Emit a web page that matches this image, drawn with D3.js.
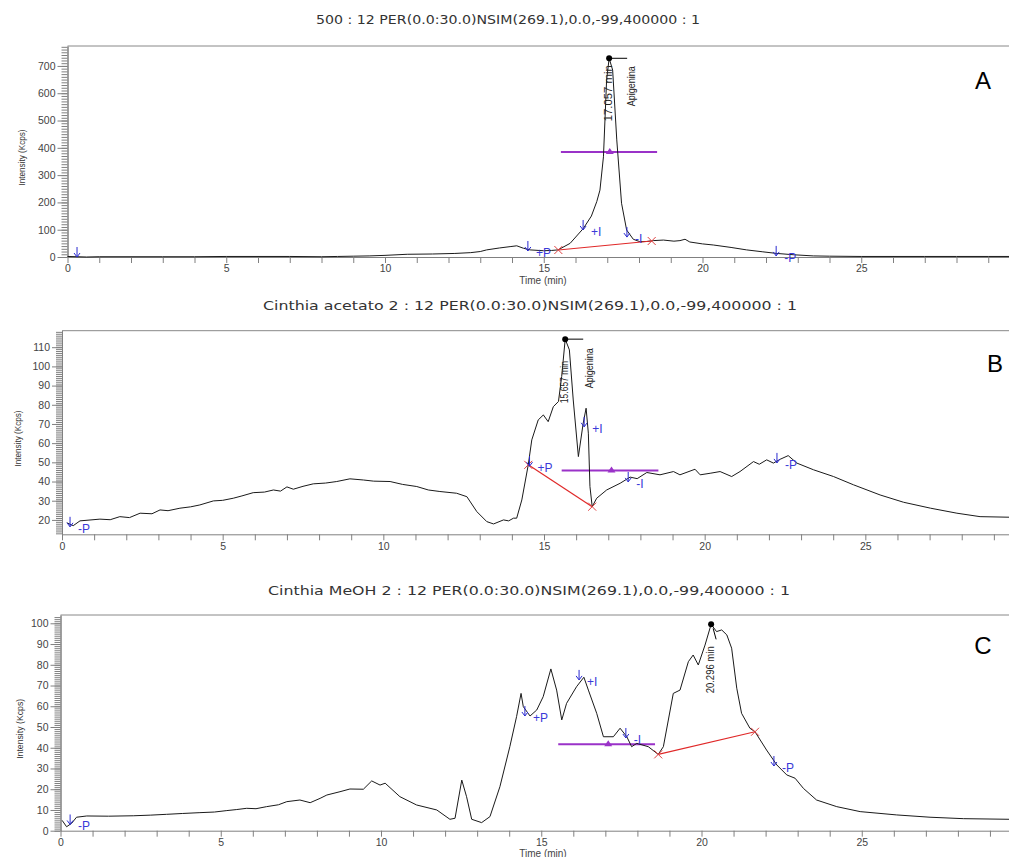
<!DOCTYPE html>
<html>
<head>
<meta charset="utf-8">
<title>Chromatograms NSIM 269.1</title>
<style>
  body { margin: 0; background: #fff; }
  svg { display: block; font-family: "Liberation Sans", Arial, sans-serif; }
</style>
</head>
<body>
<script src="https://d3js.org/d3.v7.min.js"></script>
<svg id="chart" width="1009" height="857"></svg>
<script>
// ---- titles / labels ----
const titles = [
  '500 : 12 PER(0.0:30.0)NSIM(269.1),0.0,-99,400000 : 1',
  'Cinthia acetato 2 : 12 PER(0.0:30.0)NSIM(269.1),0.0,-99,400000 : 1',
  'Cinthia MeOH 2 : 12 PER(0.0:30.0)NSIM(269.1),0.0,-99,400000 : 1'
]
const panelLetters = ['A', 'B', 'C']
const xTicks = d3.range(0, 30, 1)

// ---- trace A (time in min, intensity in Kcps) ----
const timeA = [0, 0.3, 0.6, 1, 2, 3, 4, 5, 6, 7, 8, 8.5, 9, 9.5, 10, 10.7, 11.5, 12.2, 12.7, 13.0, 13.2, 13.6, 13.94, 14.15, 14.36, 14.57, 14.99, 15.25, 15.45, 15.83, 16.25, 16.5, 16.67, 16.77, 16.88, 16.98, 17.06, 17.17, 17.3, 17.45, 17.61, 17.82, 18.03, 18.25, 18.45, 18.77, 19.1, 19.29, 19.45, 19.6, 20.0, 20.34, 20.9, 21.39, 21.9, 22.34, 22.9, 23.49, 24, 25, 26, 27, 28, 29, 30]
const intensityA = [2, 1, 0, 1, 1, 1, 1, 2, 2, 2, 1, 2, 3, 4, 6, 10, 11, 13, 16, 20, 26, 33, 38, 41, 32, 26, 23, 24, 26, 50, 105, 150, 203, 245, 367, 649, 728, 685, 429, 197, 99, 65, 56, 57, 60, 62, 58, 60, 65, 55, 48, 44, 35, 26, 19, 13, 8, 4, 3, 2, 2, 2, 2, 2, 2]

// ---- trace B ----
const timeB = [0.15, 0.35, 0.56, 1.18, 1.5, 1.8, 2.1, 2.43, 2.8, 3.05, 3.3, 3.67, 4, 4.29, 4.71, 5.0, 5.33, 5.6, 5.95, 6.3, 6.58, 6.8, 7.0, 7.2, 7.5, 7.82, 8.2, 8.55, 8.96, 9.38, 9.7, 10.21, 10.6, 11.04, 11.4, 11.76, 12.28, 12.6, 12.91, 13.22, 13.43, 13.74, 13.9, 14.05, 14.15, 14.31, 14.51, 14.62, 14.82, 14.98, 15.13, 15.29, 15.45, 15.55, 15.66, 15.79, 15.91, 16.07, 16.22, 16.31, 16.38, 16.43, 16.5, 16.64, 16.95, 17.37, 17.68, 17.9, 18.2, 18.61, 19.03, 19.23, 19.7, 19.86, 20.17, 20.48, 20.84, 21.1, 21.52, 21.7, 21.93, 22.14, 22.35, 22.6, 22.87, 23.39, 24.01, 24.63, 25.46, 26.19, 27.03, 27.85, 28.57, 29.5, 30]
const intensityB = [18.5, 17, 19.5, 20.4, 20.1, 21.7, 21.2, 23.5, 23.2, 25.2, 24.8, 26.1, 26.8, 27.8, 29.9, 30.2, 31.3, 32.5, 34.2, 34.5, 35.6, 35.0, 37.2, 36, 37.5, 38.8, 39.2, 40, 41.4, 40.8, 40.2, 40, 38.5, 37.4, 35.6, 34.8, 33.9, 32.1, 24.3, 19.1, 17.9, 20, 19.5, 20.9, 20.9, 30.4, 48.7, 61.7, 72.1, 74.7, 71.2, 79, 81.7, 94.7, 114.2, 108.6, 82.5, 53, 70.4, 78.2, 65.2, 37.4, 26.9, 31.3, 35.6, 39.1, 42.3, 41.5, 44.7, 43.5, 45.2, 43.5, 46.4, 43.5, 44.3, 45.2, 42.6, 45.2, 50.4, 49, 51.3, 49.6, 51.6, 53.5, 49.6, 46.1, 42.6, 38.3, 33, 29.2, 26.1, 23.5, 21.7, 21.4, 21.2]

// ---- trace C ----
const timeC = [0.05, 0.19, 0.35, 0.5, 0.82, 1.5, 2.27, 2.8, 3.31, 3.8, 4.35, 4.8, 5.19, 5.5, 5.81, 6.1, 6.43, 6.8, 7.06, 7.47, 7.79, 8.1, 8.31, 8.72, 9.03, 9.45, 9.71, 9.97, 10.13, 10.59, 11.11, 11.74, 12.15, 12.31, 12.52, 12.67, 12.83, 13.14, 13.4, 13.71, 14.02, 14.23, 14.37, 14.44, 14.65, 14.86, 15.06, 15.3, 15.48, 15.64, 15.79, 16.1, 16.33, 16.47, 16.73, 16.94, 17.25, 17.46, 17.67, 17.82, 17.98, 18.34, 18.65, 18.81, 19.12, 19.33, 19.59, 19.74, 19.9, 20.11, 20.3, 20.47, 20.63, 20.79, 20.94, 21.1, 21.25, 21.51, 21.67, 22.03, 22.35, 22.66, 22.92, 23.18, 23.59, 24.22, 24.95, 26.09, 27.13, 28.17, 29.6, 30]
const intensityC = [5, 1.9, 3.6, 6.5, 7.1, 7.0, 7.2, 7.5, 7.9, 8.3, 8.7, 9.0, 9.7, 10.2, 10.8, 10.6, 11.6, 12.5, 14, 14.8, 13.5, 15.6, 17.2, 18.8, 20.1, 20, 24, 22, 22.9, 16.4, 12.4, 10, 5.5, 6, 24.4, 16.4, 5.5, 3.9, 6.8, 21.2, 40.5, 55, 66.2, 59.8, 55.3, 58.2, 64.6, 78, 67.8, 53.4, 61.4, 69.4, 74, 67.8, 56.6, 45.3, 45.3, 49.4, 45.3, 40.5, 42.1, 40.5, 36.8, 40.5, 66.2, 67.8, 81.5, 84.7, 79.9, 89.5, 99.5, 96, 96.8, 94.4, 88, 68.7, 56.6, 49.4, 47.7, 38.9, 31.7, 26.9, 25.3, 20.4, 14.8, 11.6, 9.2, 7.6, 6.5, 5.8, 5.5, 5.4]

// ---- peak apex, retention time label, compound ----
const peakTimes = [17.06, 15.66, 20.3]
const peakValues = [728, 114.2, 99.5]
const peakLabels = ['17.057 min', '15.657 min', '20.296 min']
const compounds = ['Apigenina', 'Apigenina', '']

// ---- integration baselines (red), [t, v] start and end ----
const baselineA = [[15.46, 25.6], [18.4, 58.6]]
const baselineB = [[14.51, 48.7], [16.5, 26.9]]
const baselineC = [[18.65, 36.8], [21.67, 47.7]]

// ---- half-height bars (purple): from, to, triangle time, level ----
const halfBarA = [15.54, 18.57, 17.08, 385]
const halfBarB = [15.55, 18.56, 17.1, 45.7]
const halfBarC = [15.53, 18.55, 17.09, 41.7]

// ---- event markers (blue arrows) ----
const eventTimesA = [0.3, 14.5, 16.24, 17.62, 22.32]
const eventValuesA = [0, 22, 99, 73, 4]
const eventLabelsA = ['', '+P', '+I', '-I', '-P']
const eventTimesB = [0.25, 14.55, 16.25, 17.62, 22.25]
const eventValuesB = [16.4, 48, 68.5, 39.8, 49.7]
const eventLabelsB = ['-P', '+P', '+I', '-I', '-P']
const eventTimesC = [0.3, 14.49, 16.18, 17.64, 22.26]
const eventValuesC = [3, 55.3, 72.7, 44.7, 31.2]
const eventLabelsC = ['-P', '+P', '+I', '-I', '-P']

const svg = d3.select('#chart')

const panels = [
  { time: timeA, val: intensityA, base: baselineA, bar: halfBarA,
    ev: [eventTimesA, eventValuesA, eventLabelsA],
    left: 67.5, right: 1020, top: 46, bottom: 257, yDomain: [0, 773], major: 100,
    titleX: 508, titleY: 24, titleLen: 384, letterPos: [983, 89], yLabelX: 25, yLabelLen: 56,
    peakLabelLen: 56, peakLabelOff: 63, compOff: [26, 48], peakTail: 'h',
    timeLabelY: 284, timeLabelX: 543 },
  { time: timeB, val: intensityB, base: baselineB, bar: halfBarB,
    ev: [eventTimesB, eventValuesB, eventLabelsB],
    left: 62, right: 1026, top: 330.7, bottom: 534.3, yDomain: [12.5, 118.6], major: 10,
    titleX: 530, titleY: 310, titleLen: 534, letterPos: [995, 372], yLabelX: 21, yLabelLen: 56,
    peakLabelLen: 42, peakLabelOff: 64, compOff: [28, 49], peakTail: 'h', timeLabelY: null },
  { time: timeC, val: intensityC, base: baselineC, bar: halfBarC,
    ev: [eventTimesC, eventValuesC, eventLabelsC],
    left: 60.5, right: 1022, top: 615, bottom: 830.7, yDomain: [0, 104], major: 10,
    titleX: 529, titleY: 595, titleLen: 522, letterPos: [983, 654], yLabelX: 23, yLabelLen: 60,
    peakLabelLen: 47, peakLabelOff: 69, compOff: null, peakTail: 'v',
    timeLabelY: 857, timeLabelX: 543 }
]

panels.forEach((p, i) => {
  const g = svg.append('g')
  const x = d3.scaleLinear().domain([0, 30]).range([p.left, p.right])
  const y = d3.scaleLinear().domain(p.yDomain).range([p.bottom, p.top])

  // title
  g.append('text')
    .attr('x', p.titleX).attr('y', p.titleY)
    .attr('text-anchor', 'middle')
    .attr('font-family', '"DejaVu Sans", Verdana, sans-serif')
    .attr('font-size', 13).attr('fill', '#333')
    .attr('textLength', p.titleLen).attr('lengthAdjust', 'spacingAndGlyphs')
    .text(titles[i])

  // top frame line
  g.append('line')
    .attr('x1', p.left).attr('x2', 1009)
    .attr('y1', p.top).attr('y2', p.top)
    .attr('stroke', '#888')

  // x axis, a tick every minute, labels every 5
  const xa = g.append('g')
    .attr('transform', `translate(0,${p.bottom})`)
    .call(d3.axisBottom(x).tickValues(xTicks).tickSize(6).tickSizeOuter(0).tickPadding(2)
      .tickFormat(d => d % 5 === 0 ? d : ''))

  // y axis, major and minor ticks
  const lo = Math.ceil(p.yDomain[0] / p.major) * p.major
  const majors = d3.range(lo, p.yDomain[1], p.major)
  const minorStep = p.major / 10
  const minors = d3.range(Math.ceil(p.yDomain[0] / minorStep) * minorStep, p.yDomain[1], minorStep)
  const yMinor = g.append('g')
    .attr('transform', `translate(${p.left},0)`)
    .call(d3.axisLeft(y).tickValues(minors).tickSize(6).tickSizeOuter(0).tickFormat(''))
  const ya = g.append('g')
    .attr('transform', `translate(${p.left},0)`)
    .call(d3.axisLeft(y).tickValues(majors).tickSize(10).tickSizeOuter(0).tickPadding(2))

  ;[xa, ya, yMinor].forEach(a => {
    a.selectAll('path, line').attr('stroke', '#808080')
    a.selectAll('text').attr('fill', '#444').attr('font-size', 10.5)
      .attr('font-family', '"Liberation Sans", Arial, sans-serif')
  })

  // axis titles
  g.append('text')
    .attr('transform', `translate(${p.yLabelX},${(p.top + p.bottom) / 2 + 6}) rotate(-90)`)
    .attr('text-anchor', 'middle')
    .attr('font-size', 9).attr('fill', '#333')
    .attr('textLength', p.yLabelLen).attr('lengthAdjust', 'spacingAndGlyphs')
    .text('Intensity (Kcps)')
  if (p.timeLabelY) {
    g.append('text')
      .attr('x', p.timeLabelX).attr('y', p.timeLabelY)
      .attr('text-anchor', 'middle')
      .attr('font-size', 10).attr('fill', '#444')
      .text('Time (min)')
  }

  // half-height bar
  const [b0, b1, bt, bv] = p.bar
  g.append('line')
    .attr('x1', x(b0)).attr('x2', x(b1))
    .attr('y1', y(bv)).attr('y2', y(bv))
    .attr('stroke', '#9a32c8').attr('stroke-width', 2)
  g.append('path')
    .attr('d', `M${x(bt) - 4},${y(bv) + 2}L${x(bt)},${y(bv) - 4}L${x(bt) + 4},${y(bv) + 2}Z`)
    .attr('fill', '#9a32c8')

  // chromatogram trace
  const pts = p.time.map((t, k) => [t, p.val[k]])
  g.append('path')
    .datum(pts)
    .attr('fill', 'none')
    .attr('stroke', '#1a1a1a')
    .attr('stroke-width', 1)
    .attr('d', d3.line().x(d => x(d[0])).y(d => y(d[1])))

  // integration baseline with X marks
  g.append('line')
    .attr('x1', x(p.base[0][0])).attr('y1', y(p.base[0][1]))
    .attr('x2', x(p.base[1][0])).attr('y2', y(p.base[1][1]))
    .attr('stroke', '#e02828').attr('stroke-width', 1.2)
  p.base.forEach(b => {
    const cx = x(b[0]), cy = y(b[1])
    g.append('path')
      .attr('d', `M${cx - 4},${cy - 4}L${cx + 4},${cy + 4}M${cx - 4},${cy + 4}L${cx + 4},${cy - 4}`)
      .attr('stroke', '#e04040').attr('stroke-width', 1)
  })

  // event markers
  const [et, evv, el] = p.ev
  et.forEach((t, k) => {
    const mx = x(t), my = y(evv[k])
    g.append('path')
      .attr('d', `M${mx},${my - 10}L${mx},${my}M${mx - 3},${my - 4}L${mx},${my}L${mx + 3},${my - 4}`)
      .attr('stroke', '#2a2ad0').attr('fill', 'none').attr('stroke-width', 1)
    if (el[k]) {
      g.append('text')
        .attr('x', mx + 8).attr('y', my + 6)
        .attr('font-size', 12).attr('fill', '#3a3ad8')
        .text(el[k])
    }
  })

  // peak apex
  const px = x(peakTimes[i]), py = y(peakValues[i])
  g.append('circle').attr('cx', px).attr('cy', py).attr('r', 3).attr('fill', '#000')
  if (p.peakTail === 'h') {
    g.append('line').attr('x1', px).attr('x2', px + 18).attr('y1', py).attr('y2', py)
      .attr('stroke', '#000')
  } else {
    g.append('line').attr('x1', px + 2).attr('x2', px + 5).attr('y1', py + 4).attr('y2', py + 15)
      .attr('stroke', '#000')
  }
  g.append('text')
    .attr('transform', `translate(${px + 3},${py + p.peakLabelOff}) rotate(-90)`)
    .attr('font-size', 10).attr('fill', '#222')
    .attr('textLength', p.peakLabelLen).attr('lengthAdjust', 'spacingAndGlyphs')
    .text(peakLabels[i])
  if (compounds[i]) {
    g.append('text')
      .attr('transform', `translate(${px + p.compOff[0]},${py + p.compOff[1]}) rotate(-90)`)
      .attr('font-size', 10).attr('fill', '#222')
      .attr('textLength', 40).attr('lengthAdjust', 'spacingAndGlyphs')
      .text(compounds[i])
  }

  // panel letter
  g.append('text')
    .attr('x', p.letterPos[0]).attr('y', p.letterPos[1])
    .attr('text-anchor', 'middle')
    .attr('font-size', 24).attr('fill', '#000')
    .text(panelLetters[i])
})
</script>
</body>
</html>
